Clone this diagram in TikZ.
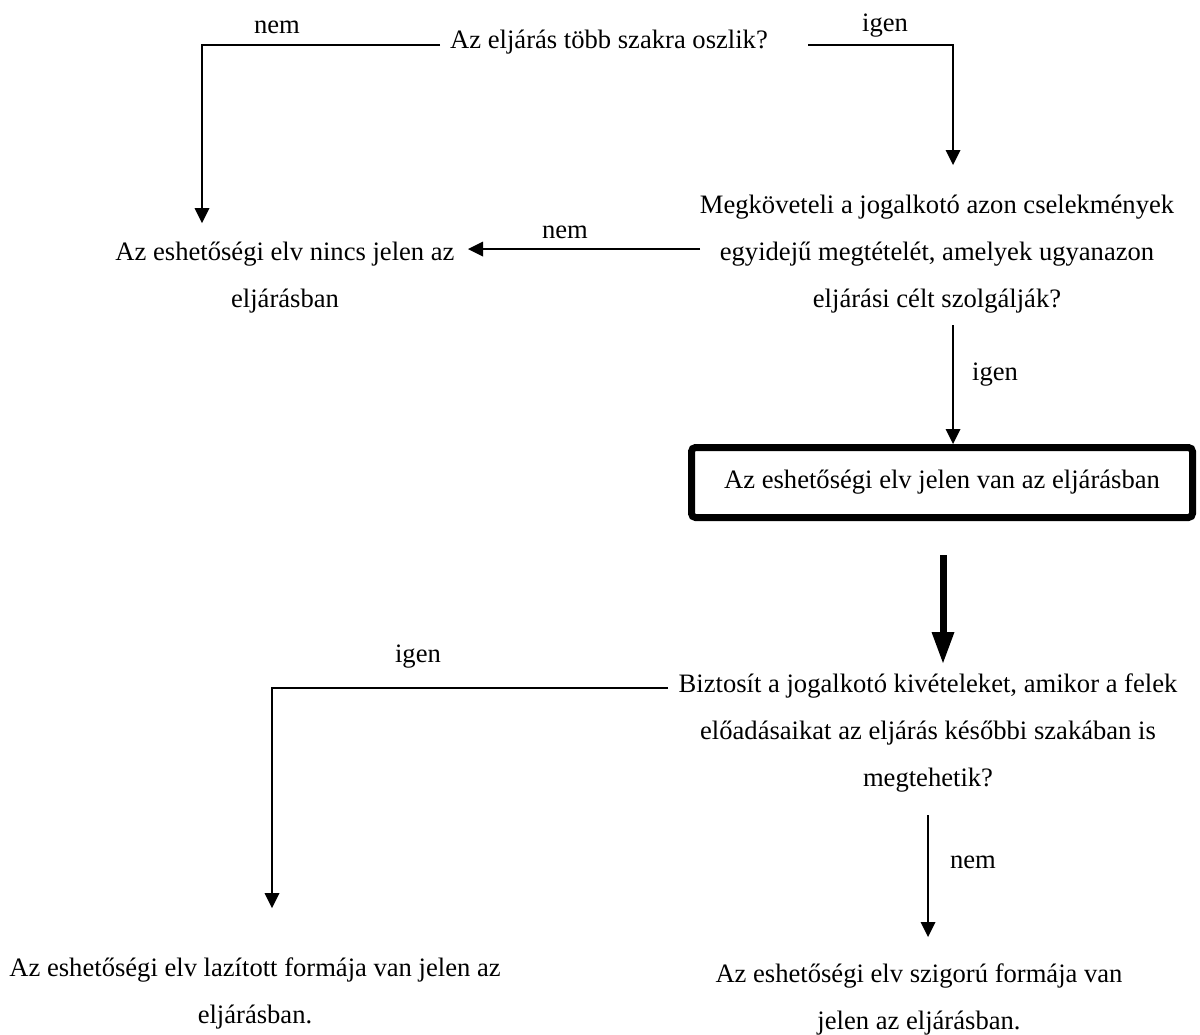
\documentclass[tikz,border=0pt]{standalone}
\usepackage{fontspec}
\setmainfont{Liberation Serif}
\usetikzlibrary{positioning}
\usetikzlibrary{arrows.meta}

\tikzset{
	txt/.style={font=\fontsize{13.3}{23.5}\selectfont, inner sep=0pt, align=center, anchor=base},
	flow/.style={line width=0.65pt},
	flowarrow/.style={flow, -{Triangle[width=7.5pt,length=7.5pt,line width=0pt]}},
	thickarrow/.style={line width=3.5pt, -{Triangle[width=11.5pt,length=15.5pt,line width=0pt]}},
	resultbox/.style={draw, line width=3.5pt, rounded corners=2pt, minimum width=250.5pt, minimum height=35pt, inner sep=0pt}
}

\begin{document}
\begin{tikzpicture}[x=0.5pt,y=-0.5pt]
	
	\useasboundingbox (0,0) rectangle (1200,1034);
	
	% the questions (base = baseline of the last line)
	\node[txt] (Q1) at (609,48) {Az eljárás több szakra oszlik?};
	\node[txt] (Q2) at (937,307) {Megköveteli a jogalkotó azon cselekmények\\egyidejű megtételét, amelyek ugyanazon\\eljárási célt szolgálják?};
	\node[resultbox, font=\fontsize{13.3}{23.5}\selectfont] (Yes) at (942,482.5) {Az eshetőségi elv jelen van az eljárásban};
	\node[txt] (Q3) at (928,786) {Biztosít a jogalkotó kivételeket, amikor a felek\\előadásaikat az eljárás későbbi szakában is\\megtehetik?};
	
	% the answers
	\node[txt] (No1) at (285,307) {Az eshetőségi elv nincs jelen az\\eljárásban};
	\node[txt] (Loose) at (255,1023) {Az eshetőségi elv lazított formája van jelen az\\eljárásban.};
	\node[txt] (Strict) at (919,1029) {Az eshetőségi elv szigorú formája van\\jelen az eljárásban.};
	
	% free ends of the connectors
	\coordinate (Q1L) at (440,45);
	\coordinate (Q1R) at (808,45);
	\coordinate (No1T) at (202,223);
	\coordinate (Q2T) at (953,165);
	\coordinate (Q2L) at (700,249);
	\coordinate (No1R) at (468,249);
	\coordinate (Q2B) at (953,325);
	\coordinate (YesB) at (943,555);
	\coordinate (Q3T) at (943,663);
	\coordinate (Q3L) at (668,688);
	\coordinate (LooseT) at (272,908);
	\coordinate (Q3B) at (928,815);
	\coordinate (StrictT) at (928,937);
	
	% connectors
	\draw[flowarrow] (Q1L) -| (No1T);
	\draw[flowarrow] (Q1R) -| (Q2T);
	\draw[flowarrow] (Q2L) -- (No1R);
	\draw[flowarrow] (Q2B) -- (Q2B |- Yes.north);
	\draw[thickarrow] (YesB) -- (Q3T);
	\draw[flowarrow] (Q3L) -| (LooseT);
	\draw[flowarrow] (Q3B) -- (StrictT);
	
	% answer labels
	\node[txt] (nem1) at (277,33) {nem};
	\node[txt] (igen1) at (885,31) {igen};
	\node[txt] (nem2) at (565,238) {nem};
	\node[txt] (igen2) at (995,380) {igen};
	\node[txt] (igen3) at (418,662) {igen};
	\node[txt] (nem3) at (973,868) {nem};
	
\end{tikzpicture}
\end{document}
